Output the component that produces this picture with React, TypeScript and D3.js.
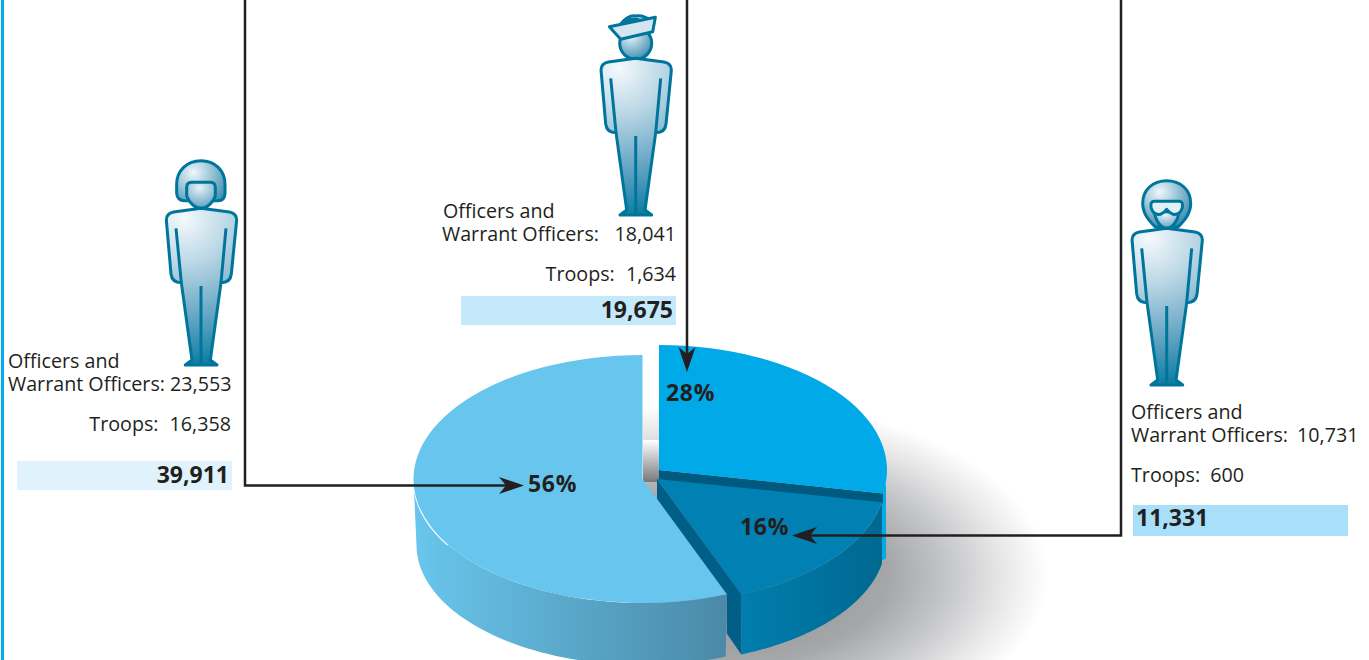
import React from "react";
import * as d3 from "d3";

// Personnel by service component
const sharePercents = [28, 16, 56];
const shareLabels = ["28%", "16%", "56%"];
const officerCounts = ["23,553", "18,041", "10,731"];
const troopCounts = ["16,358", "1,634", "600"];
const totalCounts = ["39,911", "19,675", "11,331"];

const WIDTH = 1369;
const HEIGHT = 660;
const FONT = "'Open Sans', 'Noto Sans', sans-serif";
const INK = "#231f20";
const BODY_SIZE = 19.7;
const BOLD_SIZE = 23;

const tau = Math.PI * 2;
const pie = d3.pie<number>().sort(null).startAngle(0).endAngle(tau);
const slices = pie(sharePercents);

// Each wedge is exploded from the centre by its own offset; the "floor" is its lower rim.
const geometry = [
  { cx: 659, cy: 470, rx: 228, ry: 125, floorRx: 228, floorRy: 125, floorCy: 537 },
  { cx: 657, cy: 479, rx: 229, ry: 124, floorRx: 229, floorRy: 122, floorCy: 541 },
  { cx: 642.5, cy: 479, rx: 229, ry: 124, floorRx: 226, floorRy: 120, floorCy: 545 },
];

const ellipsePoint = (a: number, cx: number, cy: number, rx: number, ry: number): [number, number] => [
  cx + Math.sin(a) * rx,
  cy - Math.cos(a) * ry,
];

const wedgeTop = (i: number) => {
  const g = geometry[i];
  const arc = d3.arc<d3.PieArcDatum<number>>().innerRadius(0).outerRadius(g.rx);
  return { d: arc(slices[i]) as string, transform: `translate(${g.cx},${g.cy}) scale(1,${g.ry / g.rx})` };
};

// Outer wall of a wedge between two angles, built from its upper and lower rims.
const wallPath = (i: number, a0: number, a1: number) => {
  const g = geometry[i];
  const angles = d3.range(0, 61).map((k) => a0 + ((a1 - a0) * k) / 60);
  const upper = angles.map((a) => ellipsePoint(a, g.cx, g.cy, g.rx, g.ry));
  const lower = angles.map((a) => ellipsePoint(a, g.cx, g.floorCy, g.floorRx, g.floorRy)).reverse();
  return (d3.line()([...upper, ...lower]) as string) + "Z";
};

// Thin lit rim along part of a wedge's upper edge.
const rimPath = (i: number, a0: number, a1: number) => {
  const g = geometry[i];
  const pts = d3.range(0, 41).map((k) => ellipsePoint(a0 + ((a1 - a0) * k) / 40, g.cx, g.cy + 1, g.rx, g.ry));
  return d3.line()(pts) as string;
};

const BODY =
  "M137,175 L55,186 Q33,190 33,210 L47,372 Q50,398 78,398 L110,630 L90,645 L185,645 L165,630 L197,398 Q225,398 228,372 L244,210 Q244,190 222,186 Z";

const Man = ({ x, foot, children }: { x: number; foot: number; children: React.ReactNode }) => (
  <g transform={`translate(${x},${foot}) scale(${1 / 3}) translate(-137,-645)`} stroke="#00759c" strokeWidth={9} strokeLinejoin="round">
    {children}
    <path d={BODY} fill="url(#bodyFill)" />
    <path d="M62,235 L78,398 M212,235 L197,398 M137,408 L137,640" fill="none" />
  </g>
);

const Helmet = () => (
  <g>
    <path d="M137,32 C95,32 64,62 64,102 L64,130 Q66,152 88,152 L105,152 C115,165 125,175 137,175 C149,175 159,165 169,152 L188,152 Q208,152 209,130 L209,102 C209,62 179,32 137,32 Z" fill="url(#headFill)" />
    <path d="M108,97 Q94,97 94,112 L94,138 C102,160 120,175 137,175 C154,175 172,160 180,138 L180,112 Q180,97 166,97 Z" fill="url(#faceFill)" />
  </g>
);

const SailorCap = () => (
  <g>
    <circle cx={137} cy={130} r={48} fill="url(#headFill)" />
    <path d="M92,72 Q115,44 137,48 Q160,44 178,60 L140,76 Z" fill="url(#faceFill)" />
    <path d="M58,80 L196,52 L188,95 L92,118 Z" fill="#d3e6ef" />
    <path d="M105,66 Q130,50 152,62" fill="none" />
  </g>
);

const Goggles = () => (
  <g>
    <path d="M137,32 C95,32 65,60 65,100 C65,130 82,150 102,170 L172,170 C192,150 209,130 209,100 C209,60 179,32 137,32 Z" fill="url(#headFill)" />
    <path d="M100,125 C103,155 122,175 137,175 C152,175 171,155 174,125 Z" fill="url(#faceFill)" />
    <path d="M100,94 L174,94 Q187,94 184,112 Q178,136 156,133 Q144,128 137,118 Q130,128 118,133 Q96,136 90,112 Q87,94 100,94 Z" fill="#e3f0f6" />
  </g>
);

const Arrow = ({ x, y, angle }: { x: number; y: number; angle: number }) => (
  <path d="M0,0 L-25,-8.5 L-18,0 L-25,8.5 Z" fill={INK} transform={`translate(${x},${y}) rotate(${angle})`} />
);

const Bold = ({ anchor, x, y, spacing = 0, children }: { anchor: "start" | "end"; x: number; y: number; spacing?: number; children: React.ReactNode }) => (
  <text x={x} y={y} textAnchor={anchor} fontFamily={FONT} fontSize={BOLD_SIZE} fontWeight={700} fill={INK} letterSpacing={spacing}>
    {children}
  </text>
);

const Plain = ({ anchor = "start", x, y, gap = 0, children }: { anchor?: "start" | "end"; x: number; y: number; gap?: number; children: React.ReactNode }) => (
  <text x={x} y={y} textAnchor={anchor} fontFamily={FONT} fontSize={BODY_SIZE} fill={INK} wordSpacing={gap}>
    {children}
  </text>
);

export default function App() {
  const [blueTop, darkTop, lightTop] = [wedgeTop(0), wedgeTop(1), wedgeTop(2)];
  const blue = geometry[0];
  const dark = geometry[1];
  const light = geometry[2];
  const darkEnd = ellipsePoint(slices[1].endAngle, dark.cx, dark.cy, dark.rx, dark.ry);
  const darkEndFloor = ellipsePoint(slices[1].endAngle, dark.cx, dark.floorCy, dark.floorRx, dark.floorRy);
  const lightStart = ellipsePoint(slices[2].startAngle, light.cx, light.cy, light.rx, light.ry);
  const blueEnd = ellipsePoint(slices[0].endAngle, blue.cx, blue.cy, blue.rx, blue.ry);
  const blueEndFloor = ellipsePoint(slices[0].endAngle, blue.cx, blue.floorCy, blue.floorRx, blue.floorRy);

  return (
    <svg width={WIDTH} height={HEIGHT} viewBox={`0 0 ${WIDTH} ${HEIGHT}`} style={{ position: "absolute", left: 0, top: 0, background: "#fff" }}>
      <defs>
        <radialGradient id="shadowFill" gradientUnits="userSpaceOnUse" cx={0} cy={0} r={1} gradientTransform="translate(730,575) scale(318,175)">
          <stop offset="0" stopColor="#8a8b8e" />
          <stop offset="0.5" stopColor="#a6a7a9" />
          <stop offset="0.68" stopColor="#c4c5c7" />
          <stop offset="0.85" stopColor="#e6e6e7" />
          <stop offset="1" stopColor="#ffffff" />
        </radialGradient>
        <linearGradient id="gapShade" x1="0" y1="0" x2="0" y2="1">
          <stop offset="0" stopColor="#ffffff" />
          <stop offset="1" stopColor="#77787a" />
        </linearGradient>
        <clipPath id="shadowClip">
          <rect x={643} y={0} width={WIDTH} height={HEIGHT} />
        </clipPath>
        <linearGradient id="lightWall" gradientUnits="userSpaceOnUse" x1={414} y1={0} x2={728} y2={0}>
          <stop offset="0" stopColor="#69c6ec" />
          <stop offset="1" stopColor="#4a89a7" />
        </linearGradient>
        <linearGradient id="darkWall" gradientUnits="userSpaceOnUse" x1={740} y1={0} x2={884} y2={0}>
          <stop offset="0" stopColor="#007eae" />
          <stop offset="1" stopColor="#006890" />
        </linearGradient>
        <radialGradient id="bodyFill" gradientUnits="userSpaceOnUse" cx={85} cy={205} r={445}>
          <stop offset="0" stopColor="#f4f9fc" />
          <stop offset="0.3" stopColor="#bcd8e6" />
          <stop offset="0.65" stopColor="#6aa8c5" />
          <stop offset="1" stopColor="#0a7ca3" />
        </radialGradient>
        <radialGradient id="headFill" cx="0.35" cy="0.25" r="0.85">
          <stop offset="0" stopColor="#f0f7fa" />
          <stop offset="1" stopColor="#2f86ab" />
        </radialGradient>
        <radialGradient id="faceFill" cx="0.45" cy="0.2" r="0.9">
          <stop offset="0" stopColor="#e8f3f8" />
          <stop offset="1" stopColor="#4a98ba" />
        </radialGradient>
      </defs>

      {/* Frame rule on the left edge */}
      <rect x={1} y={0} width={3} height={HEIGHT} fill="#00aeef" />

      {/* Cast shadow, with a deeper patch in the gap between wedges */}
      <ellipse cx={730} cy={575} rx={318} ry={175} fill="url(#shadowFill)" clipPath="url(#shadowClip)" />
      <rect x={643} y={440} width={17} height={42} fill="url(#gapShade)" />

      {/* Upper-right wedge: wall sliver, cut face, top */}
      <path d={`M${blueEnd[0] - 1},${blueEnd[1]} L${blueEnd[0] + 3},${blueEnd[1] - 10} L${blueEnd[0] + 3},${blueEndFloor[1] - 2} L${blueEnd[0] - 1},${blueEndFloor[1]} Z`} fill="#00a9e8" />
      <path d={`M${blue.cx},${blue.cy} L${blueEnd[0]},${blueEnd[1]} L${blueEnd[0]},${blueEnd[1] + 10} L${blue.cx},${blue.cy + 10} Z`} fill="#005a80" />
      <path d={blueTop.d} transform={blueTop.transform} fill="#00a9e8" />

      {/* Lower wedge: wall, top, cut face */}
      <path d={wallPath(1, slices[1].startAngle, slices[1].endAngle)} fill="url(#darkWall)" />
      <path d={darkTop.d} transform={darkTop.transform} fill="#0080b3" />
      <path d={`M${dark.cx},${dark.cy} L${darkEnd[0]},${darkEnd[1]} L${darkEndFloor[0]},${darkEndFloor[1]} L${lightStart[0]},${darkEndFloor[1] - 21} L${lightStart[0]},${lightStart[1]} L${dark.cx},${dark.cy + 25} Z`} fill="#005f88" />

      {/* Largest wedge: wall, rim highlight, top */}
      <path d={wallPath(2, slices[2].startAngle, tau * 0.75)} fill="url(#lightWall)" />
      <path d={rimPath(2, tau * 0.662, tau * 0.75)} fill="none" stroke="#fff" strokeWidth={1.2} />
      <path d={lightTop.d} transform={lightTop.transform} fill="#68c6ee" />

      {/* Leader lines */}
      <path d="M245,0 V485.5 H510 M687,0 V355 M1121,0 V535.5 H805" fill="none" stroke={INK} strokeWidth={2.5} />
      <Arrow x={524} y={485.5} angle={0} />
      <Arrow x={687} y={372} angle={90} />
      <Arrow x={792} y={535.5} angle={180} />

      {/* Share labels */}
      <Bold anchor="start" x={666} y={401} spacing={0.7}>{shareLabels[0]}</Bold>
      <Bold anchor="start" x={740} y={535} spacing={0.7}>{shareLabels[1]}</Bold>
      <Bold anchor="start" x={528} y={492} spacing={0.7}>{shareLabels[2]}</Bold>

      {/* Service figures */}
      <Man x={201} foot={365}><Helmet /></Man>
      <Man x={635.7} foot={215}><SailorCap /></Man>
      <Man x={1166.7} foot={385}><Goggles /></Man>

      {/* Left block */}
      <Plain x={8} y={368}>Officers and</Plain>
      <Plain x={8} y={391}>Warrant Officers: {officerCounts[0]}</Plain>
      <Plain anchor="end" x={231} y={431} gap={6}>Troops: {troopCounts[0]}</Plain>
      <rect x={17} y={461} width={215} height={29} fill="#e0f3fc" />
      <Bold anchor="end" x={229} y={483}>{totalCounts[0]}</Bold>

      {/* Centre block */}
      <Plain x={443} y={218}>Officers and</Plain>
      <Plain x={442} y={241}>Warrant Officers:</Plain>
      <Plain anchor="end" x={676} y={241}>{officerCounts[1]}</Plain>
      <Plain anchor="end" x={676} y={281} gap={6}>Troops: {troopCounts[1]}</Plain>
      <rect x={461} y={296} width={215} height={29} fill="#c4e9fb" />
      <Bold anchor="end" x={673} y={318}>{totalCounts[1]}</Bold>

      {/* Right block */}
      <Plain x={1131} y={419}>Officers and</Plain>
      <Plain x={1131} y={442}>Warrant Officers: <tspan dx={4}>{officerCounts[2]}</tspan></Plain>
      <Plain x={1131} y={482} gap={5}>Troops: {troopCounts[2]}</Plain>
      <rect x={1133} y={505} width={215} height={31} fill="#a8dff9" />
      <Bold anchor="start" x={1136} y={526}>{totalCounts[2]}</Bold>
    </svg>
  );
}
